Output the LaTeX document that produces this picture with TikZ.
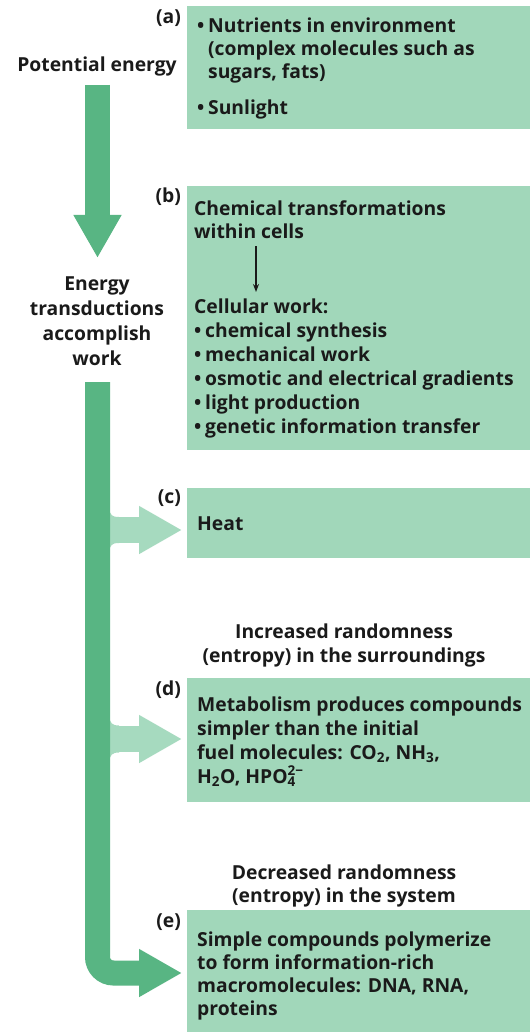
\documentclass[tikz,border=0pt]{standalone}
\usepackage{fontspec}
\setmainfont{Open Sans}
\usetikzlibrary{arrows.meta}
\definecolor{trunkgreen}{RGB}{88,181,131}
\definecolor{boxgreen}{RGB}{161,215,186}
\definecolor{lightarrow}{RGB}{166,218,191}
\definecolor{ink}{RGB}{26,26,26}
\newcommand\tlines[2]{\begin{tabular}[t]{@{}#1@{}}#2\end{tabular}}
\newcommand\bul{\makebox[11pt][l]{•}}
\newcommand\ind{\hspace*{11pt}}
\newcommand\subsup[2]{\rlap{\textsubscript{#1}}\textsuperscript{#2}}
\begin{document}
\begin{tikzpicture}[x=1pt,y=-1pt,
  every node/.style={text=ink, inner sep=0pt, font=\bfseries\fontsize{19.3}{24}\selectfont},
  panel/.style={fill=boxgreen, draw=none, anchor=north west},
  tag/.style={anchor=base east},
  body/.style={anchor=base west},
  mid/.style={anchor=base},
  trunk/.style={draw=trunkgreen, line width=25pt, -{Triangle[width=45pt,length=43pt]}},
  branch/.style={draw=lightarrow, line width=26pt, -{Triangle[width=45pt,length=43pt]}},
  thinarrow/.style={draw=ink, line width=1.3pt, -{Stealth[length=8pt,width=6pt]}}]
\fill[white] (0,0) rectangle (530,1032);
\useasboundingbox (0,0) rectangle (530,1032);

% panels
\node[panel, minimum width=343pt, minimum height=123pt] (pa) at (187,6) {};
\node[panel, minimum width=343pt, minimum height=264pt] (pb) at (187,186) {};
\node[panel, minimum width=343pt, minimum height=70pt] (pc) at (187,488) {};
\node[panel, minimum width=343pt, minimum height=124pt] (pd) at (187,678) {};
\node[panel, minimum width=343pt, minimum height=122pt] (pe) at (187,910) {};

% tags
\node[tag] (la) at (181,24) {(a)};
\node[tag] (lb) at (181,203) {(b)};
\node[tag] (lc) at (181,503) {(c)};
\node[tag] (ld) at (181,695) {(d)};
\node[tag] (le) at (181,927) {(e)};

% panel texts
\node[body] (ta) at (197,33) {\fontsize{19.3}{23}\selectfont\tlines{l}{\bul Nutrients in environment\\ \ind(complex molecules such as\\ \ind sugars, fats)\\[13pt] \bul Sunlight}};
\node[body] (tb1) at (194,215) {\tlines{l}{Chemical transformations\\ within cells}};
\node[body] (tb2) at (194,313) {\tlines{l}{Cellular work:\\ \bul chemical synthesis\\ \bul mechanical work\\ \bul osmotic and electrical gradients\\ \bul light production\\ \bul genetic information transfer}};
\node[body] (tc) at (197,530) {Heat};
\node[body] (td) at (197,711) {\fontsize{19.3}{24}\selectfont\tlines{l}{Metabolism produces compounds\\ simpler than the initial\\ fuel molecules: CO\textsubscript{2}, NH\textsubscript{3},\\ H\textsubscript{2}O, HPO\subsup{4}{2−}}};
\node[body] (te) at (197,946) {\fontsize{19.3}{23}\selectfont\tlines{l}{Simple compounds polymerize\\ to form information-rich\\ macromolecules: DNA, RNA,\\ proteins}};

% free texts
\node[mid] (pot) at (97,72) {Potential energy};
\node[mid] (etw) at (97,290) {\fontsize{19.3}{25}\selectfont\tlines{c}{Energy\\ transductions\\ accomplish\\ work}};
\node[mid] (inc) at (344,638) {\tlines{c}{Increased randomness\\ (entropy) in the surroundings}};
\node[mid] (dec) at (344,879) {\fontsize{19.3}{23.5}\selectfont\tlines{c}{Decreased randomness\\ (entropy) in the system}};

% arrow inside panel b
\draw[thinarrow, shorten >=4pt] ([xshift=62pt]tb1.south west) -- ([xshift=62pt]tb2.north west);

% light branch arrows
\coordinate (bc) at (104,530);
\coordinate (bd) at (104,739);
\draw[branch, shorten >=5pt] (bc) -- (pc.west |- 0,530);
\draw[branch, shorten >=5pt] (bd) -- (pd.west |- 0,739);
\fill[lightarrow] (109,508) .. controls (110,515) and (112,517) .. (119,517) -- (119,543) .. controls (112,543) and (110,545) .. (109,552) -- cycle;
\fill[lightarrow] (109,716) .. controls (110,723) and (112,725.5) .. (119,725.5) -- (119,752.5) .. controls (112,752.5) and (110,755) .. (109,762) -- cycle;

% dark trunk arrows
\coordinate (s1) at (97.5,85);
\coordinate (e1) at (97.5,258);
\draw[trunk] (s1) -- (e1);
\coordinate (s2) at (97.5,382);
\draw[trunk, rounded corners=16pt, shorten >=5pt] (s2) |- (pe.west |- 0,973);
\end{tikzpicture}
\end{document}
